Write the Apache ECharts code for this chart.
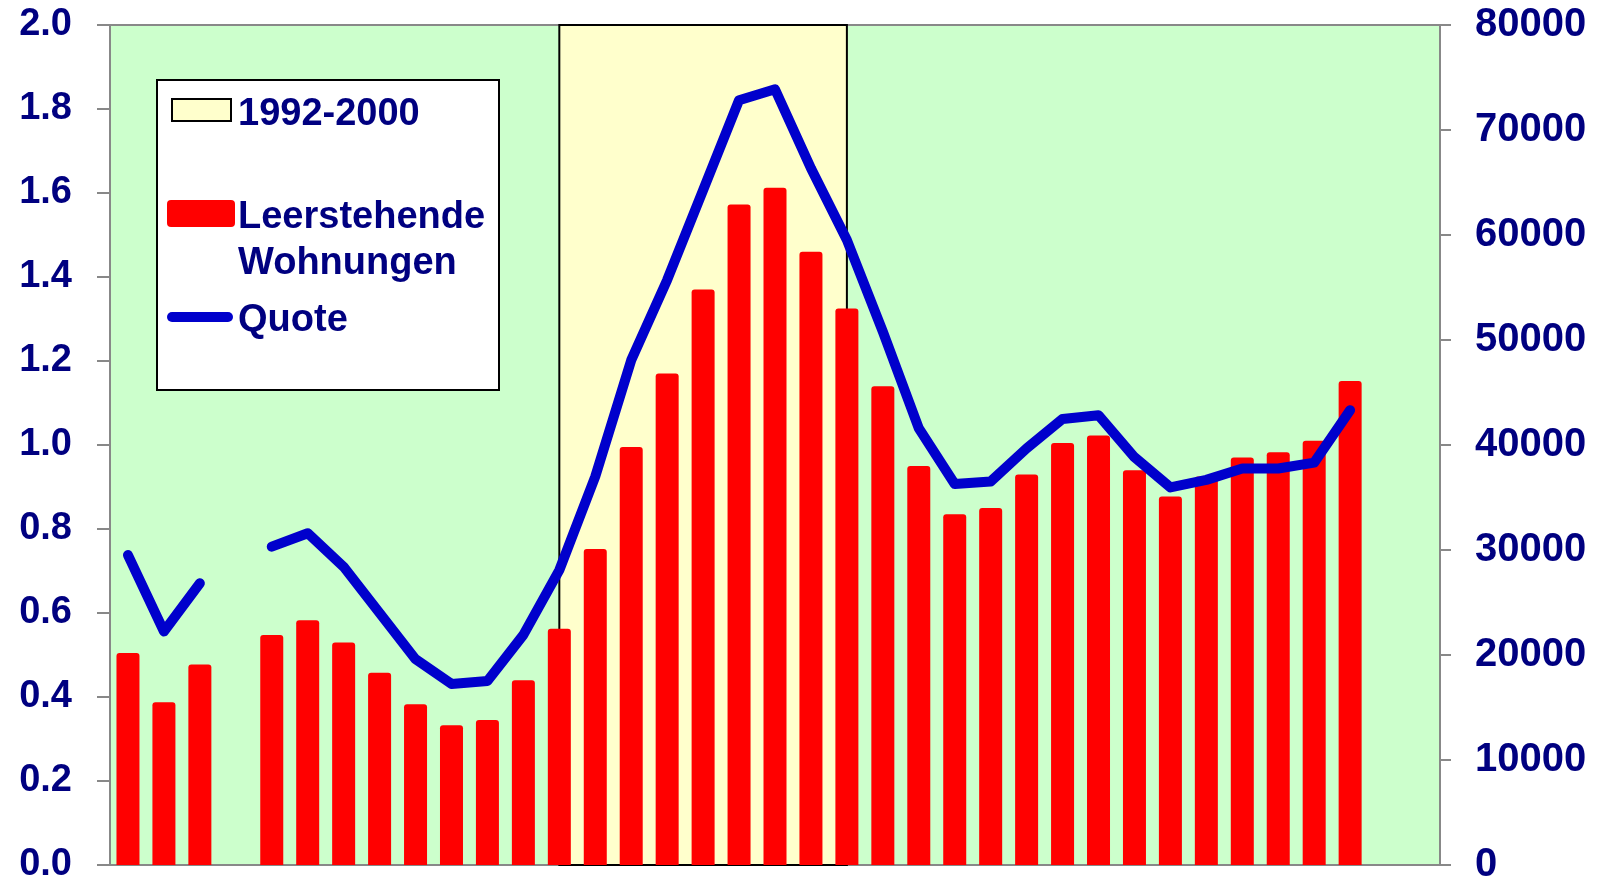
<!DOCTYPE html>
<html>
<head>
<meta charset="utf-8">
<script src="https://cdn.jsdelivr.net/npm/echarts@6/dist/echarts.min.js"></script>
<style>
  html, body { margin: 0; padding: 0; background: #fff; }
  #chart { width: 1599px; height: 885px; }
</style>
</head>
<body>
<div id="chart"></div>
<script>
// years 1980..2016, the last two have no values
const years = []
for (let y = 1980; y <= 2016; y++) years.push(String(y))

// Leerstehende Wohnungen (right axis)
const leerstand = [20200, 15500, 19100, null, 21900, 23300, 21200, 18300, 15300, 13300,
    13800, 17600, 22500, 30100, 39800, 46800, 54800, 62900, 64500, 58400,
    53000, 45600, 38000, 33400, 34000, 37200, 40200, 40900, 37600, 35100,
    37000, 38800, 39300, 40400, 46100, null, null]

// Quote in % (left axis)
const quote = [0.738, 0.556, 0.671, null, 0.758, 0.790, 0.710, 0.600, 0.490, 0.431,
    0.438, 0.548, 0.702, 0.925, 1.202, 1.393, 1.607, 1.821, 1.847, 1.659,
    1.488, 1.270, 1.040, 0.907, 0.913, 0.992, 1.062, 1.071, 0.971, 0.899,
    0.917, 0.944, 0.944, 0.958, 1.083, null, null]

const periodStart = '1992'
const periodEnd = '2000'
const legendNames = ['1992-2000', 'Leerstehende', 'Wohnungen', 'Quote']

const navy = '#000080'
const font = 'Arial, "Liberation Sans", sans-serif'
const axisGrey = '#888888'

const labelStyle = {
    color: navy,
    fontSize: 38,
    fontWeight: 'bold',
    fontFamily: font
}

// the shaded period runs from the middle of one year to the middle of the other
const periodFrom = years.indexOf(periodStart) + 0.5
const periodTo = years.indexOf(periodEnd) + 0.5

function legendText(text, y) {
    return {
        type: 'text',
        x: 238,
        y: y,
        z: 101,
        style: {
            text: text,
            fill: navy,
            font: 'bold 38px ' + font,
            align: 'left',
            verticalAlign: 'middle'
        }
    }
}

const chart = echarts.init(document.getElementById('chart'))
const option = {
    animation: false,
    grid: {
        left: 110,
        right: 159,
        top: 25,
        bottom: 20,
        show: true,
        backgroundColor: '#CCFFCC',
        borderColor: axisGrey,
        borderWidth: 2
    },
    xAxis: [
        {
            type: 'category',
            data: years,
            boundaryGap: true,
            axisLine: { show: true, lineStyle: { color: axisGrey, width: 2 } },
            axisTick: { show: false },
            axisLabel: { show: false },
            splitLine: { show: false }
        },
        {
            // helper axis, same span as the categories, only for the shaded period
            type: 'value',
            show: false,
            min: 0,
            max: years.length
        }
    ],
    yAxis: [
        {
            type: 'value',
            position: 'left',
            min: 0,
            max: 2,
            interval: 0.2,
            axisLine: { show: true, lineStyle: { color: axisGrey, width: 2 } },
            axisTick: { show: true, length: 13, lineStyle: { color: axisGrey, width: 2 } },
            axisLabel: Object.assign({ margin: 38, formatter: v => v.toFixed(1) }, labelStyle),
            splitLine: { show: false }
        },
        {
            type: 'value',
            position: 'right',
            min: 0,
            max: 80000,
            interval: 10000,
            axisLine: { show: true, lineStyle: { color: axisGrey, width: 2 } },
            axisTick: { show: true, length: 11, lineStyle: { color: axisGrey, width: 2 } },
            axisLabel: Object.assign({}, labelStyle, { margin: 35, fontSize: 40, formatter: v => String(v) }),
            splitLine: { show: false }
        }
    ],
    series: [
        {
            name: '1992-2000',
            type: 'line',
            xAxisIndex: 1,
            yAxisIndex: 0,
            data: [],
            z: 1,
            markArea: {
                silent: true,
                z: 1,
                itemStyle: { color: '#FFFFCC', borderColor: '#000000', borderWidth: 2 },
                data: [[{ xAxis: periodFrom }, { xAxis: periodTo }]]
            }
        },
        {
            name: 'Leerstehende Wohnungen',
            type: 'bar',
            yAxisIndex: 1,
            data: leerstand,
            barWidth: 23,
            z: 2,
            itemStyle: { color: '#FF0000', borderRadius: [3, 3, 0, 0] }
        },
        {
            name: 'Quote',
            type: 'line',
            yAxisIndex: 0,
            data: quote,
            z: 3,
            symbol: 'none',
            connectNulls: false,
            lineStyle: { color: '#0000CC', width: 10, cap: 'round', join: 'round' }
        }
    ],
    graphic: [
        {
            type: 'rect',
            z: 100,
            shape: { x: 157, y: 80, width: 342, height: 310 },
            style: { fill: '#FFFFFF', stroke: '#000000', lineWidth: 2 }
        },
        {
            type: 'rect',
            z: 101,
            shape: { x: 172, y: 99, width: 59, height: 22 },
            style: { fill: '#FFFFCC', stroke: '#000000', lineWidth: 2 }
        },
        {
            type: 'rect',
            z: 101,
            shape: { x: 167, y: 200, width: 68, height: 27, r: 4 },
            style: { fill: '#FF0000' }
        },
        {
            type: 'line',
            z: 101,
            shape: { x1: 172, y1: 317, x2: 228, y2: 317 },
            style: { stroke: '#0000CC', lineWidth: 10, lineCap: 'round' }
        },
        legendText(legendNames[0], 115),
        legendText(legendNames[1], 218),
        legendText(legendNames[2], 264),
        legendText(legendNames[3], 321)
    ]
}
chart.setOption(option)
window.addEventListener('resize', chart.resize)
</script>
</body>
</html>
